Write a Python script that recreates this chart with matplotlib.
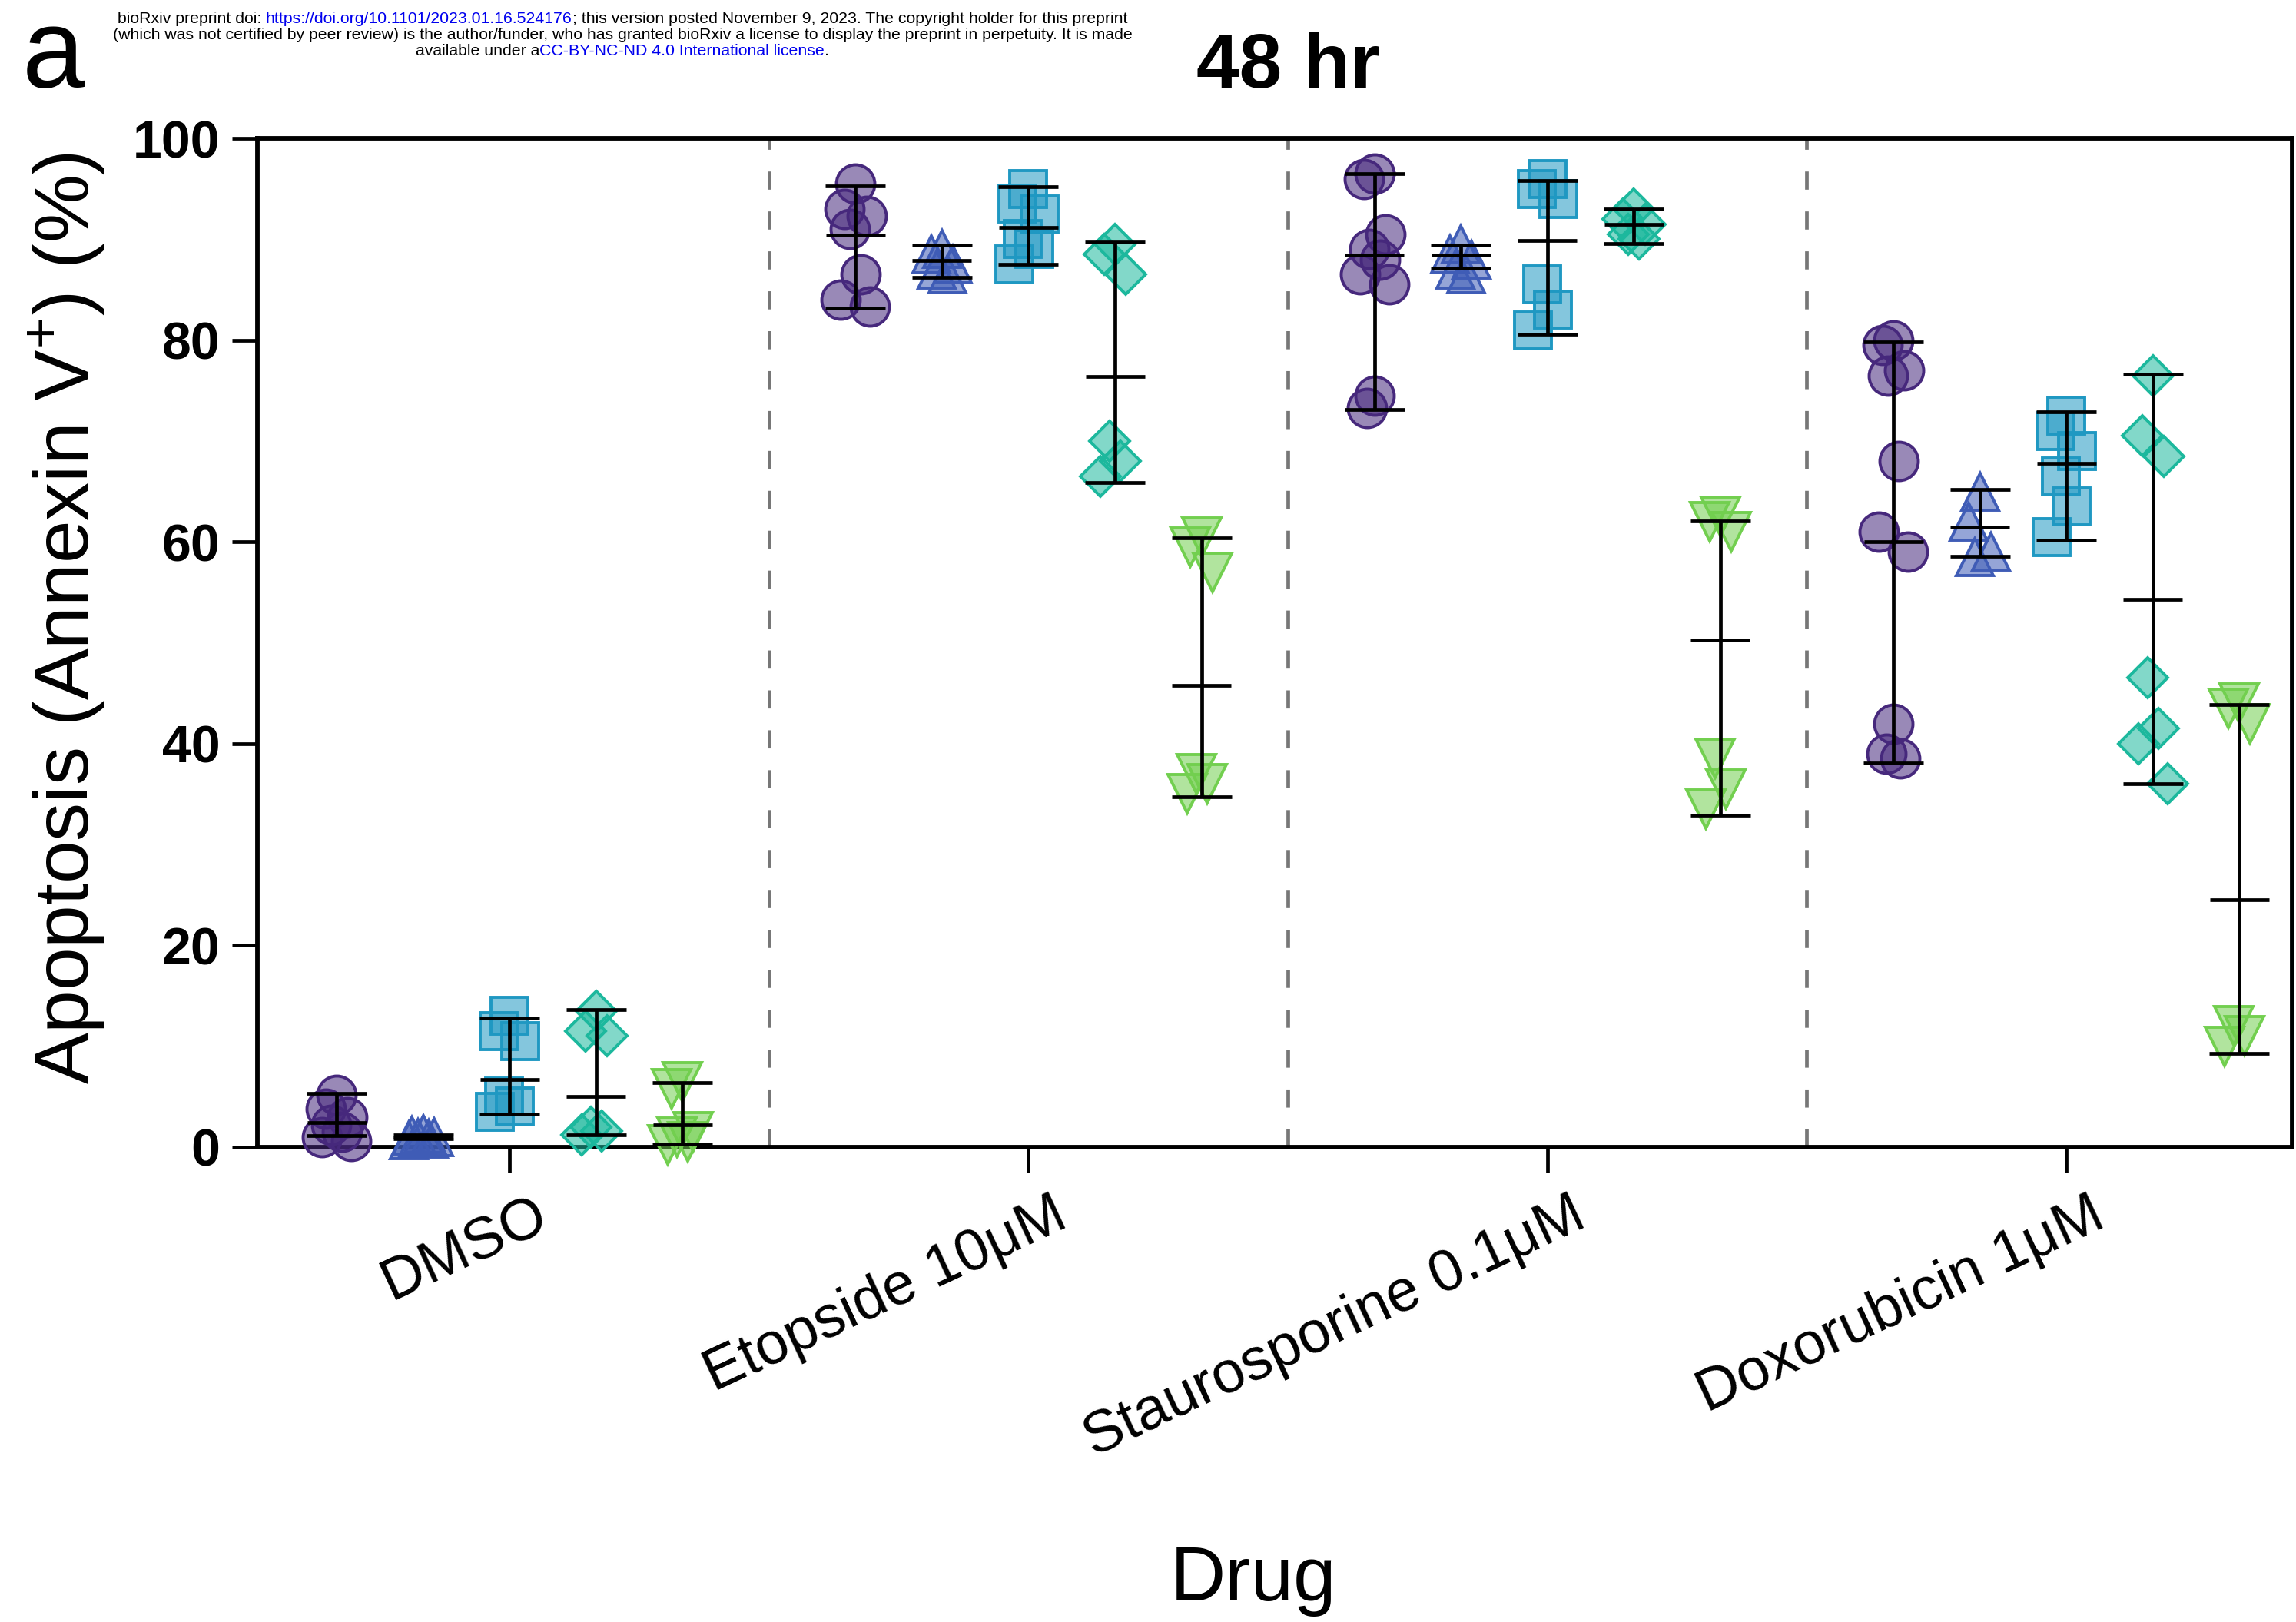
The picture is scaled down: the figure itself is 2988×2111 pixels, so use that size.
import numpy as np
import matplotlib
matplotlib.use("Agg")
import matplotlib.pyplot as plt
import matplotlib.transforms as mtransforms
from matplotlib import font_manager

plt.rcParams['font.family'] = ['Liberation Sans', 'DejaVu Sans']
plt.rcParams['mathtext.fontset'] = 'custom'
plt.rcParams['mathtext.rm'] = 'Liberation Sans'

drugs = ["DMSO", "Etopside 10μM", "Staurosporine 0.1μM", "Doxorubicin 1μM"]

# replicate values (% Annexin V+), one list per drug, for each of the 5 series
circle_vals = [[5.2, 3.8, 3.0, 2.2, 1.5, 1.0, 0.6],
               [95.5, 93.0, 92.3, 91.0, 86.5, 84.0, 83.3],
               [96.5, 96.0, 90.5, 89.0, 88.0, 86.5, 85.5, 74.5, 73.3],
               [80.0, 79.5, 77.0, 76.5, 68.0, 61.0, 59.0, 42.0, 39.0, 38.5]]
triangle_vals = [[1.3, 1.1, 1.0, 0.9, 0.8, 0.7],
                 [89.0, 88.5, 87.5, 87.0, 86.5],
                 [89.5, 88.5, 88.0, 87.0, 86.5],
                 [65.0, 62.0, 59.0, 58.5]]
square_vals = [[13.0, 11.5, 10.5, 5.0, 4.0, 3.5],
               [95.0, 93.5, 92.5, 90.0, 89.0, 87.5],
               [96.0, 95.0, 94.0, 85.5, 83.0, 81.0],
               [72.5, 71.0, 69.0, 66.5, 63.5, 60.5]]
diamond_vals = [[13.5, 11.5, 11.0, 2.0, 1.6, 1.2],
                [89.5, 88.5, 86.5, 70.0, 68.0, 66.5],
                [93.0, 92.0, 91.5, 90.5, 90.0],
                [76.5, 70.5, 68.5, 46.5, 41.5, 40.0, 36.0]]
invtri_vals = [[6.5, 5.8, 1.5, 1.0, 0.5, 0.2],
               [60.5, 59.5, 57.0, 37.0, 36.0, 35.0],
               [62.5, 62.0, 61.0, 38.5, 35.5, 33.5],
               [44.0, 43.5, 42.0, 12.0, 11.0, 10.0]]

# summary line and error bar ends per drug
circle_mid = [2.4, 90.4, 88.4, 60.0]
circle_lo = [1.1, 83.2, 73.1, 38.1]
circle_hi = [5.3, 95.3, 96.5, 79.8]
triangle_mid = [1.0, 87.9, 88.4, 61.5]
triangle_lo = [0.8, 86.2, 87.1, 58.6]
triangle_hi = [1.2, 89.4, 89.4, 65.2]
square_mid = [6.7, 91.2, 89.9, 67.8]
square_lo = [3.3, 87.5, 80.6, 60.2]
square_hi = [12.8, 95.2, 95.8, 72.9]
diamond_mid = [5.0, 76.4, 91.5, 54.3]
diamond_lo = [1.2, 65.9, 89.6, 36.0]
diamond_hi = [13.6, 89.7, 93.0, 76.6]
invtri_mid = [2.2, 45.8, 50.3, 24.5]
invtri_lo = [0.3, 34.7, 32.9, 9.3]
invtri_hi = [6.4, 60.4, 62.1, 43.9]

series = [
    (circle_vals, circle_mid, circle_lo, circle_hi),
    (triangle_vals, triangle_mid, triangle_lo, triangle_hi),
    (square_vals, square_mid, square_lo, square_hi),
    (diamond_vals, diamond_mid, diamond_lo, diamond_hi),
    (invtri_vals, invtri_mid, invtri_lo, invtri_hi),
]
markers = ['o', '^', 's', 'D', 'v']
msizes = [36, 35, 34, 26, 36]
edge_colors = ['#46287c', '#3f5cb6', '#1f98c2', '#1cb89d', '#72cf4f']
offsets = [-1/3, -1/6, 0, 1/6, 1/3]
jitter = np.array([0.0, -0.6, 0.6, -0.3, 0.3, -0.8, 0.8, 0.0, -0.4, 0.4]) * 0.035

W, H = 2988, 2111
fig = plt.figure(figsize=(W / 100, H / 100), dpi=100)
ax = fig.add_axes([0.1121, 0.2928, 0.8862, 0.6219])

for k, (vals, mid, lo, hi) in enumerate(series):
    ec = edge_colors[k]
    for g in range(len(drugs)):
        x0 = g + offsets[k]
        v = np.array(vals[g])
        xs = x0 + jitter[:len(v)]
        ax.plot(xs, v, linestyle='none', marker=markers[k], markersize=msizes[k],
                markerfacecolor=matplotlib.colors.to_rgba(ec, 0.55),
                markeredgecolor=ec, markeredgewidth=2.8, clip_on=False, zorder=3)
        ax.errorbar([x0], [mid[g]], yerr=[[mid[g] - lo[g]], [hi[g] - mid[g]]],
                    fmt='none', ecolor='black', elinewidth=3.4, capsize=28,
                    capthick=3.4, zorder=4, clip_on=False)
        ax.hlines(mid[g], x0 - 0.057, x0 + 0.057, color='black', lw=3.4,
                  zorder=4, clip_on=False)

for xs in [0.5, 1.5, 2.5]:
    ax.axvline(xs, color='#777777', lw=3.4, linestyle=(0, (5, 6)), zorder=1)

ax.set_xlim(-0.486, 3.435)
ax.set_ylim(0, 100)
ax.set_yticks([0, 20, 40, 60, 80, 100])
ax.set_xticks(range(len(drugs)))
ax.set_xticklabels([])
for lab in ax.get_yticklabels():
    lab.set_fontsize(49)
    lab.set_fontweight('bold')
ax.tick_params(axis='both', direction='out', length=24, width=3.4, pad=11)
for sp in ax.spines.values():
    sp.set_linewidth(4.2)

# slanted drug names hanging below the ticks
lab_shift = mtransforms.ScaledTranslation(22 / 72, -38 / 72, fig.dpi_scale_trans)
for g, name in enumerate(drugs):
    ax.text(g, 0, name, transform=ax.get_xaxis_transform() + lab_shift,
            rotation=25, rotation_mode='anchor', ha='right', va='top',
            fontsize=55)

fig.text(0.0288, 0.6187, "Apoptosis (Annexin V$^{\\mathregular{+}}$) (%)",
         rotation=90, fontsize=72, ha='center', va='center')
fig.text(0.546, 0.0133, "Drug", fontsize=72, ha='center', va='baseline')
fig.text(0.561, 0.946, "48 hr", fontsize=72, fontweight='bold',
         ha='center', va='baseline')
fig.text(0.0097, 0.946, "a", fontsize=105, ha='left', va='baseline')

# preprint notice across the top, links in blue
names = {f.name for f in font_manager.fontManager.ttflist}
narrow = 'Liberation Sans Narrow' if 'Liberation Sans Narrow' in names else 'Liberation Sans'
head_size = 15.3
blue = '#0000ee'
lines = [
    [("bioRxiv preprint doi:", 'black'), (" ", None),
     ("https://doi.org/10.1101/2023.01.16.524176", blue),
     ("; this version posted November 9, 2023. The copyright holder for this preprint", 'black')],
    [("(which was not certified by peer review) is the author/funder, who has granted bioRxiv a license to display the preprint in perpetuity. It is made", 'black')],
    [("available under a", 'black'), ("CC-BY-NC-ND 4.0 International license", blue), (".", 'black')],
]
baselines = [30, 51, 72]
renderer = fig.canvas.get_renderer()
probe = fig.text(0, 0, "a a", fontsize=head_size, family=narrow)
probe2 = fig.text(0, 0, "aa", fontsize=head_size, family=narrow)
space_w = probe.get_window_extent(renderer).width - probe2.get_window_extent(renderer).width
probe.remove()
probe2.remove()
for parts, yb in zip(lines, baselines):
    items = []
    for s, c in parts:
        if c is None:
            items.append((None, space_w))
        else:
            t = fig.text(0, 1 - yb / H, s, color=c, fontsize=head_size,
                         family=narrow, va='baseline', ha='left')
            items.append((t, t.get_window_extent(renderer).width))
    total = sum(w for _, w in items)
    x = 810 - total / 2
    for t, w in items:
        if t is not None:
            t.set_x(x / W)
        x += w

fig.savefig("out.png", dpi=100)
